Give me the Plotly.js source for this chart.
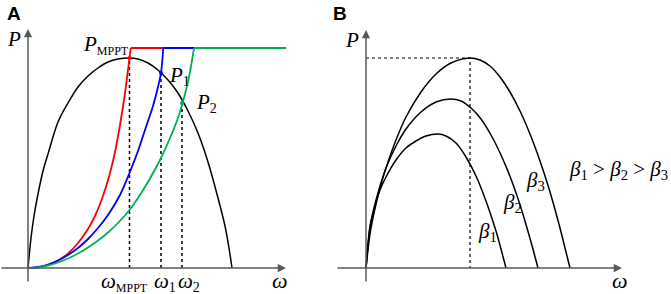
<!DOCTYPE html>
<html>
<head>
<meta charset="utf-8">
<script src="https://cdn.plot.ly/plotly-3.0.1.min.js"></script>
<style>html,body{margin:0;padding:0;background:#fff;}#chart{width:671px;height:294px;}</style>
</head>
<body>
<div id="chart"></div>
<script>
// ---------- Panel A data (ω, P) ----------
const aBlackW = [0,3,6,10,15,20,30,40,50,60,70,80,90,101,110,120,130,140,150,160,170,180,190,197,201,204];
const aBlackP = [0,30,52,74,97,114,146,165,181,192,200,206,209,210,209,205,198,188,175,157,135,106,70,42,20,0];
const aRedW = [0,10,20,30,40,50,60,67,75,82,87,92,97,101.5,102.7,258];
const aRedP = [0,0.7,3,7.5,14.5,25,39,52,72,95,116,143,175,210,220,220];
const aBlueW = [0,10,20,30,40,50,60,70,80,92,101.5,110,117,125,130,133,135.3,258];
const aBlueP = [0,1,3.5,7.5,13,20,29,40,53,73,95,117,138,162,181,195,220,220];
const aGreenW = [0,10,20,30,40,50,60,70,80,90,101.5,110,120,133,142,150,154,158,162,166,258];
const aGreenP = [0,0.7,2.5,5.5,9.5,14.5,20.5,27.5,35.5,45,58,70,86,110,130,150,163,178,196,220,220];
const aPointW = [101.5,133,154];
const aPointP = [210,195,165];
const aPointLabels = ['MPPT','1','2'];
// ---------- Panel B data (ω, P) ----------
const bBeta3W = [0,4,8,14,20,30,40,55,70,85,104,114,124,134,144,154,164,174,184,194,199,204];
const bBeta3P = [0,34,55,80,100,128,151,176,194,205,210,208,202,191,176,157,134,107,76,40,20,0];
const bBeta2W = [0,4,8,14,20,30,40,55,70,85,95,105,115,125,135,145,155,165,172];
const bBeta2P = [0,40,60,82,100,122,139,156,166,169,167,160,149,133,113,89,60,26,0];
const bBeta1W = [0,4,8,14,20,30,40,50,60,72,80,90,100,110,120,130,135,140];
const bBeta1P = [0,42,59,78,91,108,120,127,132,134,132,125,111,92,67,37,19,0];
const bPeakW = 104;
const bPeakP = 210;
const betaLabels = ['1','2','3'];

const serif = 'Times New Roman, Liberation Serif, serif';
const axisColor = '#595959';

function line(x, y, color, width, xa, dash, shape) {
  return {x: x, y: y, type: 'scatter', mode: 'lines', xaxis: xa, yaxis: 'y',
    line: {color: color, width: width, dash: dash || 'solid', shape: shape || 'linear', smoothing: 0.9},
    hoverinfo: 'skip', showlegend: false};
}
// a colored limiter curve: smooth rising part, then a straight flat top
function limiter(w, p, color) {
  const n = w.length;
  return [
    line(w.slice(0, n - 1), p.slice(0, n - 1), color, 1.8, 'x', 'solid', 'spline'),
    line(w.slice(n - 2), p.slice(n - 2), color, 1.8, 'x')
  ];
}

// dotted drop lines from the operating points
const dropX = [], dropY = [];
aPointW.forEach((w, i) => { dropX.push(w, w, null); dropY.push(0, aPointP[i], null); });

const traces = [
  line(dropX, dropY, '#000', 1.5, 'x', 'dot'),
  line(aBlackW, aBlackP, '#000', 1.5, 'x', 'solid', 'spline'),
  ...limiter(aRedW, aRedP, '#ff0000'),
  ...limiter(aBlueW, aBlueP, '#0000ff'),
  ...limiter(aGreenW, aGreenP, '#00b050'),
  {x: aPointW, y: aPointP, type: 'scatter', mode: 'markers', xaxis: 'x', yaxis: 'y',
    marker: {size: 4, color: ['#ff0000','#0000ff','#00b050']}, hoverinfo: 'skip', showlegend: false},
  line([0, bPeakW, bPeakW], [bPeakP, bPeakP, 0], '#000', 1.2, 'x2', 'dot'),
  line(bBeta3W, bBeta3P, '#000', 1.5, 'x2', 'solid', 'spline'),
  line(bBeta2W, bBeta2P, '#000', 1.5, 'x2', 'solid', 'spline'),
  line(bBeta1W, bBeta1P, '#000', 1.5, 'x2', 'solid', 'spline')
];

function arrow(xr, x, y, ax, ay) {
  return {xref: xr, yref: 'y', axref: xr, ayref: 'y', x: x, y: y, ax: ax, ay: ay,
    text: '', showarrow: true, arrowhead: 2, arrowsize: 1.1, arrowwidth: 1.5, arrowcolor: axisColor};
}
function txt(xr, x, y, text, size, xanchor) {
  return {xref: xr, yref: 'y', x: x, y: y, text: text, showarrow: false,
    xanchor: xanchor || 'center', yanchor: 'middle', font: {family: serif, size: size, color: '#000'}};
}
function sub(s, px) {
  return '<sub><span style="font-size:' + px + 'px">' + s + '</span></sub>';
}

const annotations = [
  arrow('x', 258, 0, -28, 0),
  arrow('x', 0, 239, 0, -15),
  arrow('x2', 256, 0, -30, 0),
  arrow('x2', 0, 238, 0, -15),
  txt('x', -14.5, 229.5, '<i>P</i>', 21),
  txt('x', 252, -12, '<i>ω</i>', 22),
  txt('x2', -14.5, 228.5, '<i>P</i>', 21),
  txt('x2', 253.5, -12, '<i>ω</i>', 22),
  txt('x', 53, 223, '<i>P</i>' + sub(aPointLabels[0], 12), 21, 'left'),
  txt('x', 139, 192, '<i>P</i>' + sub(aPointLabels[1], 14), 21, 'left'),
  txt('x', 166, 165, '<i>P</i>' + sub(aPointLabels[2], 14), 21, 'left'),
  txt('x', 71, -14, '<i>ω</i>' + sub(aPointLabels[0], 12), 21, 'left'),
  txt('x', 124, -14, '<i>ω</i>' + sub(aPointLabels[1], 14), 21, 'left'),
  txt('x', 148, -14, '<i>ω</i>' + sub(aPointLabels[2], 14), 21, 'left'),
  txt('x2', 110, 36, '<i>β</i><sub>' + betaLabels[0] + '</sub>', 21, 'left'),
  txt('x2', 135, 65, '<i>β</i><sub>' + betaLabels[1] + '</sub>', 21, 'left'),
  txt('x2', 158, 87, '<i>β</i><sub>' + betaLabels[2] + '</sub>', 21, 'left'),
  txt('x2', 201, 98, '<i>β</i><sub>1</sub> > <i>β</i><sub>2</sub> > <i>β</i><sub>3</sub>', 21, 'left'),
  {xref: 'paper', yref: 'paper', x: 5/671, y: 1 - 1/294, xanchor: 'left', yanchor: 'top', showarrow: false,
    text: '<b>A</b>', font: {family: 'Arial, Liberation Sans, sans-serif', size: 19, color: '#000'}},
  {xref: 'paper', yref: 'paper', x: 331/671, y: 1 - 1/294, xanchor: 'left', yanchor: 'top', showarrow: false,
    text: '<b>B</b>', font: {family: 'Arial, Liberation Sans, sans-serif', size: 19, color: '#000'}}
];

const hidden = {visible: false, showgrid: false, zeroline: false, fixedrange: true};
const layout = {
  width: 671, height: 294,
  margin: {l: 0, r: 0, t: 0, b: 0, pad: 0},
  paper_bgcolor: '#fff', plot_bgcolor: '#fff',
  showlegend: false,
  xaxis: Object.assign({domain: [0, 0.5], range: [-28, 307.5], anchor: 'y'}, hidden),
  xaxis2: Object.assign({domain: [0.5, 1], range: [-30.5, 305], anchor: 'y'}, hidden),
  yaxis: Object.assign({domain: [0, 1], range: [-26, 268]}, hidden),
  annotations: annotations
};

Plotly.newPlot('chart', traces, layout, {staticPlot: true, displayModeBar: false});
</script>
</body>
</html>
